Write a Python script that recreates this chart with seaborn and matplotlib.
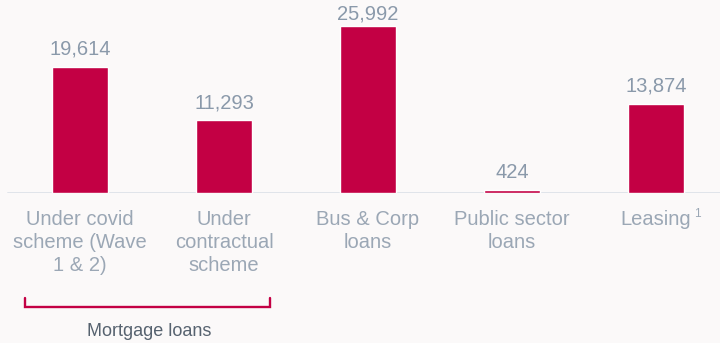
import matplotlib
matplotlib.use("Agg")
import matplotlib.pyplot as plt
import seaborn as sns
from matplotlib.lines import Line2D
from matplotlib.transforms import blended_transform_factory

# Loan book breakdown (EUR m)
categories = [
    "Under covid\nscheme (Wave\n1 & 2)",
    "Under\ncontractual\nscheme",
    "Bus & Corp\nloans",
    "Public sector\nloans",
    "Leasing",
]
values = [19614, 11293, 25992, 424, 13874]
value_labels = ["19,614", "11,293", "25,992", "424", "13,874"]
group_label = "Mortgage loans"
footnote_mark = "1"

bar_color = "#c30044"
value_color = "#8a99aa"
tick_color = "#9ba7b5"
group_color = "#56626f"
bg_color = "#fbf9f9"
axis_color = "#e0e4ea"

sns.set_theme(style="white")
plt.rcParams["font.family"] = ["Liberation Sans", "DejaVu Sans"]

fig = plt.figure(figsize=(7.2, 3.43), dpi=100)
fig.patch.set_facecolor(bg_color)
ax = fig.add_axes([0, 150 / 343, 1, 193 / 343])
ax.set_facecolor(bg_color)

sns.barplot(x=categories, y=values, color=bar_color, saturation=1,
            width=0.39, ax=ax)

ymax = 25992 * 193 / 167
ax.set_xlim(-80 / 144, 640 / 144)
ax.set_ylim(0, ymax)

for s in ax.spines.values():
    s.set_visible(False)
ax.set_yticks([])
ax.set_xlabel("")
ax.set_ylabel("")
ax.axhline(0, xmin=8 / 720, xmax=1, color=axis_color, lw=1.4, zorder=0)

ax.tick_params(axis="x", length=0, pad=12, labelsize=14.5,
               labelcolor=tick_color)
for lbl in ax.get_xticklabels():
    lbl.set_linespacing(1.28)

# value labels above bars, kept clear of the top edge
px_per_unit = 193 / ymax
for i, (v, t) in enumerate(zip(values, value_labels)):
    room_px = (ymax - v) * px_per_unit
    off_px = min(12, room_px - 19)
    ax.annotate(t, (i, v), xytext=(0, off_px * 0.72), textcoords="offset points",
                ha="center", va="baseline", fontsize=14.5,
                color=value_color)

# footnote marker after "Leasing"
ax.annotate(footnote_mark, (4, 0), xytext=(27.5, -17.3), textcoords="offset points",
            ha="left", va="baseline", fontsize=8.5, color=tick_color,
            annotation_clip=False)

# bracket grouping the two mortgage bars
tr = blended_transform_factory(ax.transData, fig.transFigure)
x0, x1 = (25 - 80) / 144, (270 - 80) / 144
y_low, y_high = (343 - 306.5) / 343, (343 - 298) / 343
fig.add_artist(Line2D([x0, x0, x1, x1], [y_high, y_low, y_low, y_high],
                      transform=tr, color=bar_color, lw=1.7,
                      solid_joinstyle="miter"))
fig.text(0.48, (343 - 336) / 343, group_label, transform=tr,
         ha="center", va="baseline", fontsize=13, color=group_color)

fig.savefig("out.png", dpi=100, facecolor=bg_color)
